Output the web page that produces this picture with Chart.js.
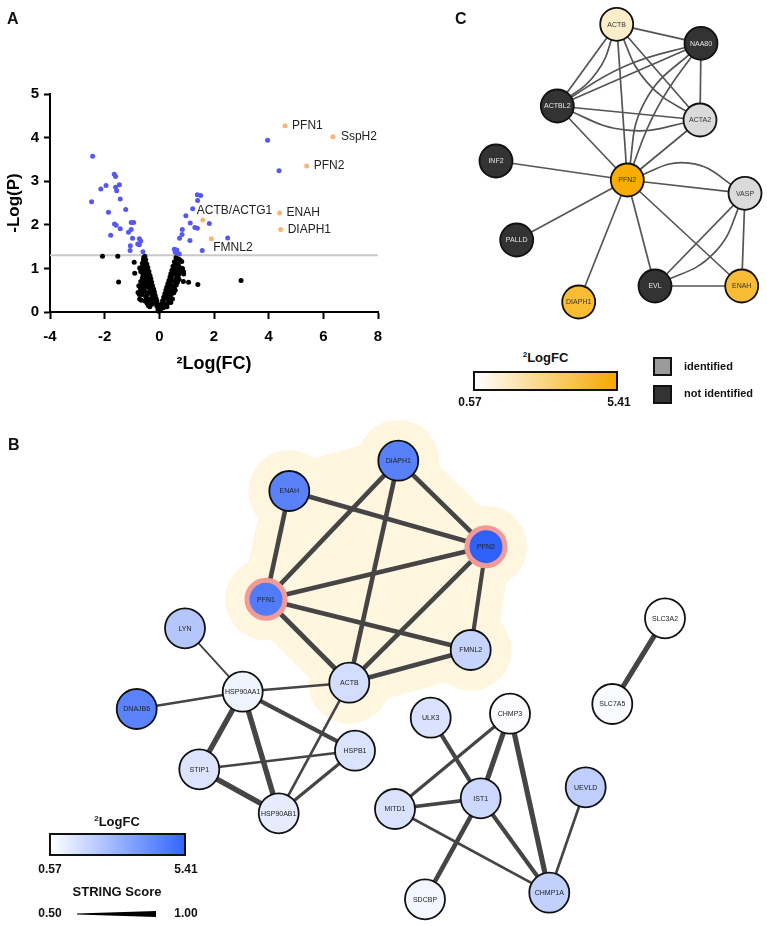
<!DOCTYPE html>
<html><head><meta charset="utf-8">
<script src="https://cdn.jsdelivr.net/npm/chart.js@4.4.1/dist/chart.umd.min.js"></script>
<style>
body{margin:0;width:767px;height:926px;background:#fff;position:relative;overflow:hidden;font-family:'Liberation Sans',Arial,sans-serif;}
canvas{position:absolute;}
.t{position:absolute;font-weight:bold;color:#111;white-space:nowrap;line-height:1.15;z-index:5;}
.c{text-align:center;}
.t sup{font-size:8px;vertical-align:5px;line-height:0;}
.bar{position:absolute;box-sizing:border-box;border:2px solid #111;z-index:5;}
.sq{position:absolute;box-sizing:border-box;width:19px;height:19px;border:2px solid #111;z-index:5;}
.wedge{position:absolute;background:#000;clip-path:polygon(0 42%,100% 0,100% 100%,0 58%);z-index:5;}
</style></head><body>
<canvas id="cA" width="400" height="385" style="left:0;top:0;width:400px;height:385px"></canvas>
<canvas id="cC" width="347" height="340" style="left:420px;top:0;width:347px;height:340px"></canvas>
<canvas id="cB" width="767" height="526" style="left:0;top:400px;width:767px;height:526px"></canvas>

<div class="t" style="left:7px;top:10px;font-size:16px">A</div>
<div class="t" style="left:455px;top:10px;font-size:16px">C</div>
<div class="t" style="left:8px;top:436px;font-size:16px">B</div>

<div class="t c" style="left:473px;top:351px;width:145px;font-size:13px"><sup>2</sup>LogFC</div>
<div class="bar" style="left:473px;top:371px;width:145px;height:20px;background:linear-gradient(to right,#ffffff,#f5a800)"></div>
<div class="t c" style="left:450px;top:396px;width:40px;font-size:12px">0.57</div>
<div class="t c" style="left:599px;top:396px;width:40px;font-size:12px">5.41</div>
<div class="sq" style="left:653px;top:357px;background:#9b9b9b"></div>
<div class="sq" style="left:653px;top:385px;background:#333333"></div>
<div class="t" style="left:684px;top:360px;font-size:11px">identified</div>
<div class="t" style="left:684px;top:387px;font-size:11px">not identified</div>

<div class="t c" style="left:47px;top:815px;width:140px;font-size:13px"><sup>2</sup>LogFC</div>
<div class="bar" style="left:49px;top:833px;width:137px;height:23px;background:linear-gradient(to right,#ffffff,#3366ff)"></div>
<div class="t c" style="left:30px;top:863px;width:40px;font-size:12px">0.57</div>
<div class="t c" style="left:166px;top:863px;width:40px;font-size:12px">5.41</div>
<div class="t c" style="left:47px;top:885px;width:140px;font-size:13px">STRING Score</div>
<div class="t c" style="left:30px;top:907px;width:40px;font-size:12px">0.50</div>
<div class="wedge" style="left:77px;top:911px;width:79px;height:6px"></div>
<div class="t c" style="left:166px;top:907px;width:40px;font-size:12px">1.00</div>

<script>
// ---------------- DATA ----------------
// Panel A: volcano plot  [log2 FC, -log10 P]
const labelledNames = ['PFN1','SspH2','PFN2','ENAH','DIAPH1','ACTB/ACTG1','FMNL2'];
const labelledFC = [4.60, 6.35, 5.39, 4.40, 4.44, 1.59, 1.90];
const labelledP  = [4.27, 4.02, 3.35, 2.27, 1.89, 2.11, 1.68];
const significant = [
 [-2.44,3.57],[-2.48,2.53],[-2.14,2.82],[-1.95,2.90],[-1.86,2.29],[-1.78,1.76],[-1.65,3.16],[-1.60,3.11],
 [-1.60,2.86],[-1.56,2.78],[-1.46,2.92],[-1.43,2.59],[-1.64,2.02],[-1.58,1.99],[-1.43,1.91],[-1.23,2.35],
 [-1.13,1.83],[-1.03,1.89],[-1.03,2.05],[-0.94,2.05],[-0.98,1.69],[-1.06,1.52],[-1.07,1.41],[-0.79,1.56],
 [-0.73,1.54],[-0.73,1.68],[-0.68,1.63],[-0.60,1.38],
 [0.55,1.44],[0.58,1.37],[0.64,1.42],[0.67,1.34],[0.73,1.33],[0.74,1.69],[0.83,1.78],[0.84,1.89],
 [0.97,2.21],[1.13,2.04],[1.12,1.64],[1.22,2.37],[1.30,1.94],[1.39,1.92],[1.40,2.56],[1.39,2.69],
 [1.51,2.67],[1.83,2.03],[2.50,1.70],[1.57,1.41],[3.96,3.94],[4.38,3.24]
];
const nonSignificant = [
 [-0.02,0.02],[-0.05,0.06],[-0.03,0.10],[-0.09,0.14],[-0.06,0.18],[-0.12,0.20],[-0.09,0.25],[-0.15,0.28],
 [-0.12,0.31],[-0.18,0.35],[-0.15,0.38],[-0.21,0.42],[-0.18,0.46],[-0.24,0.50],[-0.21,0.53],[-0.28,0.57],
 [-0.25,0.60],[-0.31,0.64],[-0.28,0.68],[-0.35,0.72],[-0.31,0.76],[-0.38,0.80],[-0.34,0.84],[-0.42,0.88],
 [-0.38,0.93],[-0.46,0.97],[-0.42,1.02],[-0.50,1.06],[-0.46,1.10],[-0.54,1.15],[-0.50,1.20],[-0.57,1.25],
 [-0.53,1.28],[-0.22,0.30],[-0.26,0.38],[-0.30,0.45],[-0.33,0.50],[-0.36,0.55],[-0.40,0.60],[-0.44,0.65],
 [-0.45,0.58],[-0.50,0.62],[-0.55,0.60],[-0.58,0.58],[-0.60,0.62],[-0.62,0.55],[-0.65,0.60],[-0.52,0.70],
 [-0.57,0.72],[-0.60,0.48],[-0.63,0.40],[-0.66,0.27],[-0.50,0.35],[-0.45,0.20],[-0.40,0.15],[-0.35,0.12],
 [-0.38,0.30],[-0.47,0.45],[-0.55,0.50],[-0.60,1.00],[-0.65,1.02],[-0.58,1.05],[-0.72,1.01],[-0.56,0.92],
 [-0.60,0.85],[-0.68,0.93],[-0.75,0.60],[-0.78,0.45],[-0.72,0.30],[-0.70,0.55],[-0.68,0.70],[-0.62,0.78],
 [-0.54,0.82],[-0.48,0.76],[-0.44,0.40],[-0.52,0.25],[-0.30,0.25],[-0.27,0.18],[-0.62,1.12],[-0.58,1.20],
 [-0.48,0.88],[-0.40,0.72],[-0.66,0.50],[-0.73,0.40],
 [-2.08,1.28],[-1.52,1.28],[-1.49,0.69],[-0.92,1.14],[-0.90,0.89],
 [0.02,0.03],[0.05,0.07],[0.04,0.11],[0.10,0.15],[0.08,0.18],[0.14,0.22],[0.12,0.26],[0.19,0.30],
 [0.16,0.34],[0.23,0.38],[0.20,0.42],[0.27,0.46],[0.24,0.50],[0.31,0.54],[0.27,0.57],[0.35,0.61],
 [0.31,0.65],[0.39,0.69],[0.35,0.72],[0.43,0.76],[0.39,0.80],[0.47,0.84],[0.42,0.88],[0.51,0.92],
 [0.46,0.96],[0.55,1.00],[0.50,1.05],[0.59,1.10],[0.55,1.15],[0.64,1.20],[0.61,1.25],
 [0.25,0.35],[0.30,0.40],[0.35,0.45],[0.40,0.50],[0.45,0.55],[0.50,0.60],[0.55,0.70],[0.60,0.75],
 [0.65,0.80],[0.70,0.85],[0.75,0.90],[0.68,1.00],[0.72,1.05],[0.70,1.15],[0.66,1.10],[0.62,0.95],
 [0.58,0.88],[0.30,0.20],[0.35,0.25],[0.28,0.12],[0.40,0.35],[0.45,0.42],[0.50,0.47],[0.53,0.44],
 [0.20,0.15],[0.15,0.10],[0.55,0.55],[0.80,0.95],[0.82,1.16],[0.85,1.00],[0.88,0.93],
 [0.62,0.62],[0.58,0.50],[0.48,0.30],[0.42,0.22],[0.66,0.68],[0.72,0.75],[0.36,0.32],[0.68,1.22],
 [0.89,0.87],[1.07,0.68],[1.41,0.63],[2.99,0.72],[0.88,0.70],[0.75,1.20]
];
const pThreshold = 1.3;
const xRange = [-4, 8];
const yRange = [0, 5];

// Panel C: network (layout coordinates)
const cNodes = ['ACTB','NAA80','ACTBL2','ACTA2','INF2','PFN2','VASP','PALLD','EVL','ENAH','DIAPH1'];
const cX = [196.7, 281, 137.3, 280, 76, 207.3, 325, 96.7, 235, 321.7, 158.7];
const cY = [24.3, 43.3, 106, 120, 161, 180, 193.3, 240, 286, 286, 302];
const cLogFC = [1.59, null, null, null, null, 5.39, null, null, null, 4.40, 4.44];
const cIdentified = [true, false, false, true, false, true, true, false, false, true, true];
const cEdges = [
 ['ACTB','NAA80',0],['ACTB','ACTBL2',0],['ACTB','ACTBL2',-0.12],['ACTB','ACTA2',0],['ACTB','ACTA2',0.12],
 ['ACTB','PFN2',0],['NAA80','ACTBL2',0],['NAA80','ACTBL2',0.06],['NAA80','ACTA2',0],['NAA80','PFN2',0.05],
 ['NAA80','PFN2',0.14],['ACTBL2','ACTA2',0],['ACTBL2','ACTA2',0.12],['ACTBL2','PFN2',0],['ACTA2','PFN2',0],
 ['INF2','PFN2',0],['PFN2','VASP',0],['PFN2','VASP',-0.2],['PFN2','PALLD',0],['PFN2','DIAPH1',0],
 ['PFN2','EVL',0],['PFN2','ENAH',0],['VASP','EVL',0],['VASP','EVL',-0.15],['VASP','ENAH',0],['EVL','ENAH',0]
];

// Panel B: STRING network (layout coordinates)
const bNodes = ['ENAH','DIAPH1','PFN1','PFN2','FMNL2','ACTB','LYN','HSP90AA1','DNAJB6','STIP1','HSPB1','HSP90AB1',
 'ULK3','CHMP3','MITD1','IST1','UEVLD','SDCBP','CHMP1A','SLC3A2','SLC7A5'];
const bX = [289.3, 398.3, 266, 486, 470.7, 349.3, 185, 242.7, 136.7, 199.3, 355, 278.7, 430.7, 510, 395, 480.7, 585.7, 425, 549.3, 665, 612.3];
const bY = [91, 60.7, 199.3, 146.7, 250, 282.7, 228.3, 291.7, 309, 369.3, 350.7, 413.3, 317.7, 313.7, 409, 398.3, 387.3, 499.3, 492.7, 218.3, 304];
const bLogFC = [4.40, 4.44, 4.60, 5.39, 1.90, 1.59, 2.30, 0.95, 4.38, 1.35, 1.40, 1.15, 1.45, 0.65, 1.45, 1.75, 2.05, 0.85, 2.00, 0.57, 0.68];
const bBaits = ['PFN1','PFN2'];
const bCluster = ['ENAH','DIAPH1','PFN2','FMNL2','ACTB','PFN1'];
const bEdges = [
 ['ENAH','PFN1',0.90],['ENAH','PFN2',0.90],['DIAPH1','PFN1',0.90],['DIAPH1','PFN2',0.90],['DIAPH1','ACTB',0.90],
 ['PFN1','PFN2',0.92],['PFN1','FMNL2',0.90],['PFN1','ACTB',0.92],['PFN2','ACTB',0.90],['PFN2','FMNL2',0.85],
 ['ACTB','FMNL2',0.90],['LYN','HSP90AA1',0.60],['DNAJB6','HSP90AA1',0.68],['HSP90AA1','ACTB',0.68],
 ['HSP90AA1','STIP1',0.99],['HSP90AA1','HSP90AB1',0.99],['HSP90AA1','HSPB1',0.85],['STIP1','HSPB1',0.68],
 ['STIP1','HSP90AB1',0.99],['HSPB1','HSP90AB1',0.75],['ACTB','HSP90AB1',0.68],['ULK3','IST1',0.85],
 ['CHMP3','MITD1',0.75],['CHMP3','IST1',0.95],['CHMP3','CHMP1A',0.97],['MITD1','IST1',0.80],
 ['MITD1','CHMP1A',0.68],['IST1','SDCBP',0.90],['IST1','CHMP1A',0.85],['UEVLD','CHMP1A',0.68],['SLC3A2','SLC7A5',0.97]
];
const fcMin = 0.57, fcMax = 5.41;

// ---------------- RENDERING ----------------
const FONT = "'Liberation Sans', Arial, sans-serif";
Chart.defaults.font.family = FONT;
Chart.defaults.color = '#000';

function mix(c0, c1, v) {
  const t = Math.max(0, Math.min(1, (v - fcMin) / (fcMax - fcMin)));
  return 'rgb(' + c0.map((a, i) => Math.round(a + (c1[i] - a) * t)).join(',') + ')';
}

// Panel A
const volcanoLabelPlugin = {
  id: 'vlabels',
  afterDatasetsDraw(chart) {
    const offs = {'PFN1':[7,0],'SspH2':[8,0],'PFN2':[7,0],'ENAH':[7,0],'DIAPH1':[7,0],'ACTB/ACTG1':[-6,-9],'FMNL2':[2,9]};
    const meta = chart.getDatasetMeta(3);
    const ctx = chart.ctx;
    ctx.save();
    ctx.font = '12px ' + FONT;
    ctx.fillStyle = '#222';
    ctx.textBaseline = 'middle';
    ctx.textAlign = 'left';
    meta.data.forEach((pt, i) => {
      const o = offs[labelledNames[i]];
      ctx.fillText(labelledNames[i], pt.x + o[0], pt.y + o[1]);
    });
    ctx.restore();
  }
};
const axisGrid = {display: true, drawOnChartArea: false, drawTicks: true, tickColor: '#000', tickWidth: 2};
new Chart(document.getElementById('cA'), {
  type: 'scatter',
  data: {datasets: [
    {type: 'line', data: [{x: xRange[0], y: pThreshold}, {x: xRange[1], y: pThreshold}], borderColor: '#c8c8c8', borderWidth: 2, pointRadius: 0, order: 10},
    {data: nonSignificant.map(([x, y]) => ({x, y})), backgroundColor: '#000', borderWidth: 0, pointRadius: 2.5, order: 3, clip: false},
    {data: significant.map(([x, y]) => ({x, y})), backgroundColor: '#5558f2', borderWidth: 0, pointRadius: 2.5, order: 2, clip: false},
    {data: labelledFC.map((x, i) => ({x, y: labelledP[i]})), backgroundColor: '#f7b673', borderWidth: 0, pointRadius: 2.5, order: 1, clip: false}
  ]},
  options: {
    responsive: false, animation: false, events: [],
    layout: {autoPadding: false, padding: {top: 94, right: 22, left: 0, bottom: 0}},
    plugins: {legend: {display: false}, tooltip: {enabled: false}},
    scales: {
      x: {type: 'linear', min: xRange[0], max: xRange[1],
        ticks: {stepSize: 2, font: {size: 15, weight: 'bold'}, color: '#000', padding: 9},
        grid: Object.assign({tickLength: 7}, axisGrid),
        border: {display: true, color: '#000', width: 2},
        title: {display: true, text: '²Log(FC)', font: {size: 18, weight: 'bold'}, color: '#000', padding: {top: 0, bottom: 10}},
        afterFit: s => { s.height = 73; }
      },
      y: {type: 'linear', min: yRange[0], max: yRange[1],
        ticks: {stepSize: 1, font: {size: 15, weight: 'bold'}, color: '#000', padding: 5},
        grid: Object.assign({tickLength: 6}, axisGrid),
        border: {display: true, color: '#000', width: 2},
        title: {display: true, text: '-Log(P)', font: {size: 17, weight: 'bold'}, color: '#000', padding: {top: 4, bottom: 0}},
        afterFit: s => { s.width = 50; }
      }
    }
  },
  plugins: [volcanoLabelPlugin]
});

// Networks
const nodeLabelPlugin = {
  id: 'nodeLabels',
  afterDatasetsDraw(chart, args, opts) {
    const i = chart.data.datasets.findIndex(d => d.isNodes);
    const meta = chart.getDatasetMeta(i);
    const ctx = chart.ctx;
    ctx.save();
    ctx.font = opts.font;
    ctx.textAlign = 'center';
    ctx.textBaseline = 'middle';
    meta.data.forEach((p, j) => { ctx.fillStyle = opts.colors[j]; ctx.fillText(opts.labels[j], p.x, p.y + 0.5); });
    ctx.restore();
  }
};
function buildNetwork(id, W, H, cfg) {
  const idx = n => cfg.nodes.indexOf(n);
  const datasets = [].concat(cfg.background || []);
  cfg.edges.forEach(e => {
    const a = idx(e[0]), b = idx(e[1]);
    const pa = {x: cfg.xs[a], y: cfg.ys[a]}, pb = {x: cfg.xs[b], y: cfg.ys[b]};
    const bend = cfg.bend(e);
    let data = [pa, pb];
    if (bend) {
      const dx = pb.x - pa.x, dy = pb.y - pa.y;
      data = [pa, {x: (pa.x + pb.x) / 2 - bend * dy, y: (pa.y + pb.y) / 2 + bend * dx}, pb];
    }
    datasets.push({type: 'line', data, borderColor: cfg.edgeColor, borderWidth: cfg.edgeWidth(e),
      pointRadius: 0, tension: bend ? 0.45 : 0, fill: false, order: 5, clip: false});
  });
  datasets.push({type: 'scatter', isNodes: true, clip: false, order: 0,
    data: cfg.nodes.map((n, i) => ({x: cfg.xs[i], y: cfg.ys[i]})),
    backgroundColor: cfg.fills, borderColor: cfg.borderColors, borderWidth: cfg.borderWidths,
    pointRadius: cfg.radii, pointHoverRadius: cfg.radii});
  return new Chart(document.getElementById(id), {
    type: 'scatter',
    data: {datasets},
    options: {
      responsive: false, animation: false, events: [],
      layout: {autoPadding: false, padding: 0},
      plugins: {legend: {display: false}, tooltip: {enabled: false},
        nodeLabels: {labels: cfg.nodes, colors: cfg.textColors, font: cfg.font}},
      scales: {
        x: {type: 'linear', display: false, min: 0, max: W},
        y: {type: 'linear', display: false, min: 0, max: H, reverse: true}
      }
    },
    plugins: [nodeLabelPlugin]
  });
}

// Panel C
const cFills = cNodes.map((n, i) => cLogFC[i] != null ? mix([255,255,255], [248,171,0], cLogFC[i]) : (cIdentified[i] ? '#dadada' : '#333333'));
buildNetwork('cC', 347, 340, {
  nodes: cNodes, xs: cX, ys: cY, edges: cEdges,
  bend: e => e[2], edgeColor: '#555555', edgeWidth: () => 1.7,
  fills: cFills,
  textColors: cNodes.map((n, i) => (cLogFC[i] == null && !cIdentified[i]) ? '#e6e6e6' : '#333333'),
  borderColors: cNodes.map(() => '#111'), borderWidths: cNodes.map(() => 1.8),
  radii: cNodes.map(() => 16.5),
  font: '7px ' + FONT
});

// Panel B
const cream = '#fef6df';
const clusterPts = bCluster.map(n => ({x: bX[bNodes.indexOf(n)], y: bY[bNodes.indexOf(n)]}));
buildNetwork('cB', 767, 526, {
  nodes: bNodes, xs: bX, ys: bY, edges: bEdges,
  bend: () => 0, edgeColor: '#454545', edgeWidth: e => 1 + (e[2] - 0.5) * 9,
  fills: bNodes.map((n, i) => mix([255,255,255], [45,96,248], bLogFC[i])),
  textColors: bNodes.map(() => '#222'),
  borderColors: bNodes.map(n => bBaits.includes(n) ? '#f49a96' : '#111'),
  borderWidths: bNodes.map(n => bBaits.includes(n) ? 5 : 1.8),
  radii: bNodes.map(n => bBaits.includes(n) ? 19 : 20),
  font: '7px ' + FONT,
  background: [
    {type: 'line', data: clusterPts.concat([clusterPts[0]]), borderColor: cream, backgroundColor: cream,
      borderWidth: 50, borderJoinStyle: 'round', borderCapStyle: 'round', fill: 'shape', pointRadius: 0, tension: 0, order: 10, clip: false},
    {type: 'scatter', data: clusterPts, backgroundColor: cream, borderWidth: 0, pointRadius: 41, pointHoverRadius: 41, order: 9, clip: false}
  ]
});
</script>
</body></html>
